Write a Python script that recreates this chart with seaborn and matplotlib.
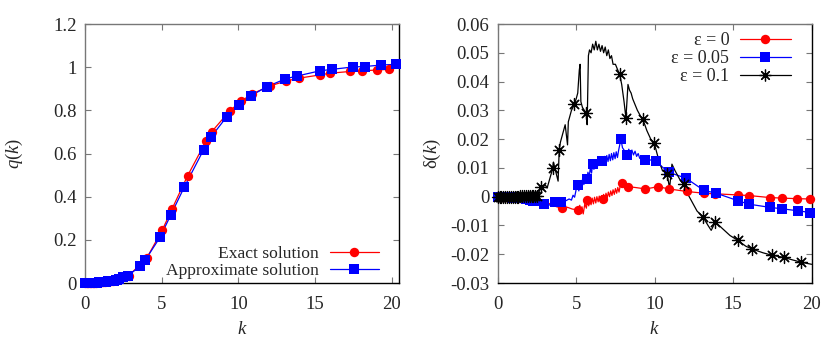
import matplotlib
matplotlib.use("Agg")
import matplotlib.pyplot as plt
import seaborn as sns
from matplotlib.lines import Line2D
from matplotlib.ticker import FuncFormatter

# ---- left panel: q(k) ----
k_dense = [0, 0.1, 0.2, 0.3, 0.4, 0.5, 0.6, 0.7, 0.8, 0.9, 1.0, 1.1,
           1.2, 1.3, 1.4, 1.5, 1.6, 1.7, 1.8, 1.9, 2.0, 2.1, 2.2]
q_exact_dense = [0, 0, 0, 0.001, 0.001, 0.001, 0.002, 0.002, 0.003, 0.003, 0.004, 0.005,
                 0.005, 0.006, 0.007, 0.008, 0.009, 0.010, 0.011, 0.013, 0.014, 0.016, 0.018]
q_approx_dense = [0, 0, 0, 0.001, 0.001, 0.001, 0.001, 0.002, 0.002, 0.003, 0.003, 0.004,
                  0.005, 0.005, 0.006, 0.007, 0.008, 0.009, 0.010, 0.011, 0.013, 0.015, 0.017]

k_exact = [2.85, 4.03, 5.05, 5.68, 6.69, 7.91, 8.25, 9.43, 10.17, 10.89, 12.05,
           13.11, 13.94, 15.31, 15.97, 17.27, 18.08, 19.02, 19.82]
q_exact = [0.034, 0.116, 0.247, 0.344, 0.497, 0.66, 0.70, 0.797, 0.842, 0.876, 0.913,
           0.936, 0.949, 0.964, 0.972, 0.98, 0.983, 0.987, 0.99]
k_approx = [2.5, 2.79, 3.59, 3.92, 4.9, 5.6, 6.47, 7.73, 8.21, 9.25, 10.04, 10.83,
            11.87, 13.07, 13.83, 15.31, 16.12, 17.47, 18.23, 19.32, 20.25]
q_approx = [0.028, 0.034, 0.077, 0.105, 0.213, 0.316, 0.444, 0.617, 0.676, 0.771, 0.825, 0.868,
            0.91, 0.946, 0.959, 0.983, 0.99, 1.001, 1.003, 1.01, 1.013]

# ---- right panel: delta(k) lines ----
k_e0 = [0, 0.5, 1.0, 1.5, 2.0, 2.5, 2.95, 3.35, 3.75, 4.09, 4.45, 4.75, 5.11, 5.23, 5.3,
        5.37, 5.45, 5.55, 5.65, 5.72, 5.8, 5.87, 5.95, 6.02, 6.1, 6.17, 6.25, 6.32, 6.4,
        6.47, 6.55, 6.62, 6.68, 6.75, 6.83, 6.9, 6.98, 7.05, 7.13, 7.2, 7.28, 7.35, 7.43,
        7.5, 7.58, 7.65, 7.73, 7.8, 7.92, 8.05, 8.28, 8.75, 9.41, 9.85, 10.19, 10.89, 12.06,
        13.13, 13.87, 15.3, 16.0, 17.32, 18.13, 19.09, 19.87, 20.0]
d_e0 = [0, -0.0001, -0.0002, -0.0004, -0.0006, -0.0009, -0.0013, -0.0026, -0.0035, -0.004,
        -0.0037, -0.0043, -0.0046, -0.003, -0.0058, -0.0035, -0.006, -0.0025, -0.004, -0.0011,
        -0.0032, -0.0008, -0.0028, -0.0005, -0.0025, -0.0002, -0.0022, 0, -0.0018, 0.0002,
        -0.0015, 0.0004, -0.0007, 0.0008, -0.0008, 0.0012, -0.0004, 0.0016, 0, 0.002,
        0.0004, 0.0024, 0.0008, 0.0028, 0.0012, 0.0032, 0.0016, 0.0036, 0.0047, 0.0038,
        0.0035, 0.0032, 0.0027, 0.0031, 0.0035, 0.0027, 0.0018, 0.0012, 0.001, 0.0006,
        0.0004, -0.0003, -0.0005, -0.0007, -0.0008, -0.0008]

k_e05 = [0, 0.5, 1, 1.5, 2, 2.55, 2.92, 3.25, 3.66, 4.02, 4.35, 4.55, 4.7, 4.8, 4.9, 5.0,
         5.09, 5.17, 5.25, 5.33, 5.41, 5.49, 5.58, 5.68, 5.75, 5.83, 5.9, 5.98, 6.05, 6.13,
         6.2, 6.28, 6.35, 6.43, 6.5, 6.58, 6.65, 6.73, 6.8, 6.88, 6.95, 7.03, 7.1, 7.18,
         7.25, 7.33, 7.4, 7.48, 7.55, 7.63, 7.7, 7.85, 7.95, 8.05, 8.24, 8.35, 8.45, 8.55,
         8.65, 8.75, 8.85, 8.95, 9.05, 9.15, 9.36, 9.65, 10.09, 10.45, 10.89, 12.0, 13.13,
         13.92, 15.3, 16.0, 17.32, 18.09, 19.13, 19.89, 20.0]
d_e05 = [0, -0.0001, -0.0003, -0.0006, -0.001, -0.0016, -0.0026, -0.003, -0.0019, -0.0017,
         -0.0014, -0.0008, -0.0012, 0.0005, -0.0002, 0.0025, 0.0041, 0.002, 0.005, 0.003,
         0.0062, 0.0042, 0.007, 0.0062, 0.0085, 0.0068, 0.01, 0.0082, 0.0115, 0.0095,
         0.0125, 0.0103, 0.013, 0.0108, 0.0134, 0.0112, 0.0125, 0.0115, 0.014, 0.0118,
         0.0143, 0.0122, 0.0147, 0.0125, 0.015, 0.0128, 0.0153, 0.0132, 0.0156, 0.0136,
         0.016, 0.02, 0.017, 0.0162, 0.0146, 0.0165, 0.015, 0.0162, 0.0145, 0.0158,
         0.014, 0.015, 0.0133, 0.014, 0.0126, 0.0128, 0.0125, 0.0105, 0.0085, 0.0064,
         0.0022, 0.0012, -0.0014, -0.0026, -0.0037, -0.0042, -0.0049, -0.0055, -0.0056]

k_e1 = [0, 0.5, 1.0, 1.5, 2.0, 2.5, 2.77, 3.05, 3.15, 3.51, 3.55, 3.85, 3.92, 4.0, 4.1,
        4.2, 4.3, 4.45, 4.5, 4.6, 4.7, 4.89, 5.0, 5.1, 5.2, 5.25, 5.3, 5.4, 5.64, 5.7,
        5.78, 5.85, 5.95, 6.05, 6.15, 6.25, 6.35, 6.45, 6.55, 6.65, 6.75, 6.85, 6.95, 7.05,
        7.15, 7.25, 7.35, 7.5, 7.65, 7.77, 7.9, 8.05, 8.17, 8.3, 8.4, 8.5, 8.6, 8.75, 8.9,
        9.1, 9.25, 9.5, 9.75, 9.98, 10.1, 10.3, 10.5, 10.79, 10.95, 11.1, 11.3, 11.6, 11.87,
        12.1, 12.4, 12.7, 13.06, 13.4, 13.6, 13.87, 14.3, 14.8, 15.3, 15.8, 16.21, 16.9,
        17.49, 18.24, 18.8, 19.34, 20.0]
d_e1 = [0, 0, 0, 0.0001, 0.0001, 0.0002, 0.0032, 0.004, 0.003, 0.0099, 0.012, 0.0054,
        0.0163, 0.019, 0.021, 0.023, 0.025, 0.018, 0.026, 0.028, 0.03, 0.0321, 0.034, 0.036,
        0.044, 0.046, 0.033, 0.031, 0.029, 0.025, 0.049, 0.051, 0.05, 0.053, 0.051, 0.054,
        0.051, 0.053, 0.0505, 0.0525, 0.05, 0.052, 0.049, 0.051, 0.048, 0.049, 0.046, 0.046,
        0.044, 0.0426, 0.039, 0.033, 0.0273, 0.039, 0.037, 0.036, 0.034, 0.032, 0.03, 0.028,
        0.0269, 0.023, 0.02, 0.0186, 0.016, 0.012, 0.009, 0.008, 0.0029, 0.0113, 0.009,
        0.006, 0.0044, 0.001, -0.002, -0.005, -0.0069, -0.01, -0.0117, -0.0088, -0.011,
        -0.0135, -0.0152, -0.0172, -0.0182, -0.0195, -0.0204, -0.0211, -0.022, -0.0228, -0.0235]

# ---- right panel: marker points ----
kd_dense = [0, 0.12, 0.24, 0.36, 0.48, 0.6, 0.72, 0.84, 0.96, 1.08, 1.2, 1.32,
            1.44, 1.56, 1.68, 1.8, 1.92, 2.04, 2.16, 2.28, 2.4]
dm_e0_dense = [0, 0, 0, -0.0001, -0.0001, -0.0001, -0.0001, -0.0002, -0.0002, -0.0002, -0.0002,
               -0.0003, -0.0003, -0.0004, -0.0004, -0.0005, -0.0005, -0.0006, -0.0007, -0.0008, -0.0009]
dm_e05_dense = [0, 0, 0, -0.0001, -0.0001, -0.0001, -0.0002, -0.0002, -0.0003, -0.0003, -0.0003,
                -0.0004, -0.0005, -0.0006, -0.0006, -0.0007, -0.0009, -0.001, -0.0012, -0.0014, -0.0016]
dm_e1_dense = [0, 0, 0, 0, 0, 0, 0, 0, 0, 0, 0, 0,
               0.0001, 0.0001, 0.0001, 0.0001, 0.0001, 0.0001, 0.0001, 0.0002, 0.0002]

km_e0 = [4.09, 5.11, 5.72, 6.68, 7.92, 8.28, 9.41, 10.19, 10.89, 12.06, 13.13, 13.87,
         15.3, 16.0, 17.32, 18.13, 19.09, 19.87]
dm_e0 = [-0.004, -0.0046, -0.0011, -0.0007, 0.0047, 0.0035, 0.0027, 0.0035, 0.0027, 0.0018,
         0.0012, 0.001, 0.0006, 0.0004, -0.0003, -0.0005, -0.0007, -0.0008]
km_e05 = [2.92, 3.66, 4.02, 5.09, 5.68, 6.05, 6.65, 7.85, 8.24, 9.36, 10.09, 10.89, 12.0,
          13.13, 13.92, 15.3, 16.0, 17.32, 18.09, 19.13, 19.89]
dm_e05 = [-0.0026, -0.0019, -0.0017, 0.0041, 0.0062, 0.0115, 0.0125, 0.02, 0.0146, 0.0126,
          0.0125, 0.0085, 0.0064, 0.0022, 0.0012, -0.0014, -0.0026, -0.0037, -0.0042, -0.0049, -0.0055]
km_e1 = [2.5, 2.77, 3.51, 3.92, 4.89, 5.64, 7.77, 8.17, 9.25, 9.98, 10.79, 11.87, 13.06,
         13.87, 15.3, 16.21, 17.49, 18.24, 19.34]
dm_e1 = [0.0002, 0.0032, 0.0099, 0.0163, 0.0321, 0.029, 0.0426, 0.0273, 0.0269, 0.0186,
         0.008, 0.0044, -0.0069, -0.0088, -0.0152, -0.0182, -0.0204, -0.0211, -0.0228]

labels_left = ['Exact solution', 'Approximate solution']
labels_right = ['ε = 0', 'ε = 0.05', 'ε = 0.1']

sns.set_theme(style='ticks')
plt.rcParams['font.family'] = ['Liberation Serif', 'DejaVu Serif']
plt.rcParams['mathtext.fontset'] = 'custom'
plt.rcParams['mathtext.rm'] = 'Liberation Serif'
plt.rcParams['mathtext.it'] = 'Liberation Serif:italic'
plt.rcParams['font.size'] = 13

RED = '#ff0000'
BLUE = '#0000ff'
GREY = '#777777'
ASTER = (8, 2, 0)

fig = plt.figure(figsize=(8.3, 3.42), dpi=100)
ax1 = fig.add_axes([0.1024, 0.1725, 0.3783, 0.7573])
ax2 = fig.add_axes([0.5996, 0.1725, 0.3783, 0.7573])


def line(ax, x, y, color):
    sns.lineplot(x=x, y=y, ax=ax, color=color, linewidth=0.9, sort=False, estimator=None)


def pts(ax, x, y, color, marker, size, lw=0):
    if lw:
        sns.scatterplot(x=x, y=y, ax=ax, color=color, marker=marker, s=size,
                        linewidth=lw, edgecolor=color, clip_on=False, zorder=5)
    else:
        sns.scatterplot(x=x, y=y, ax=ax, color=color, marker=marker, s=size,
                        linewidth=0, clip_on=False, zorder=5)


# left panel
line(ax1, k_dense + k_exact, q_exact_dense + q_exact, RED)
pts(ax1, k_dense + k_exact, q_exact_dense + q_exact, RED, 'o', 45)
line(ax1, k_dense + k_approx, q_approx_dense + q_approx, BLUE)
pts(ax1, k_dense + k_approx, q_approx_dense + q_approx, BLUE, 's', 45)

# right panel
line(ax2, k_e0, d_e0, RED)
pts(ax2, kd_dense + km_e0, dm_e0_dense + dm_e0, RED, 'o', 45)
line(ax2, k_e05, d_e05, BLUE)
pts(ax2, kd_dense + km_e05, dm_e05_dense + dm_e05, BLUE, 's', 45)
line(ax2, k_e1, d_e1, 'black')
pts(ax2, kd_dense + km_e1, dm_e1_dense + dm_e1, 'black', ASTER, 75, lw=0.9)

fmt = FuncFormatter(lambda v, p: '%g' % round(v, 6))
for ax in (ax1, ax2):
    ax.tick_params(direction='in', length=4.5, width=0.8, color=GREY,
                   top=True, right=True, labelsize=13.5, pad=6)
    ax.tick_params(axis='x', pad=9)
    ax.spines['left'].set_color(GREY)
    ax.spines['top'].set_color(GREY)
    ax.spines['bottom'].set_color('black')
    ax.spines['right'].set_color('black')
    for s in ax.spines.values():
        s.set_linewidth(1.0)
    ax.xaxis.set_major_formatter(fmt)
    ax.yaxis.set_major_formatter(fmt)
    ax.set_xticks([0, 5, 10, 15, 20])
    ax.set_xlabel(r'$k$', fontsize=13.5, labelpad=6)

ax1.set_xlim(0, 20.47)
ax1.set_ylim(0, 1.2)
ax1.set_yticks([0, 0.2, 0.4, 0.6, 0.8, 1.0, 1.2])
ax1.set_ylabel(r'$q(k)$', fontsize=13.5)
ax1.yaxis.set_label_coords(-0.19, 0.5)

ax2.set_xlim(0, 20)
ax2.set_ylim(-0.03, 0.06)
ax2.set_yticks([-0.03, -0.02, -0.01, 0, 0.01, 0.02, 0.03, 0.04, 0.05, 0.06])
ax2.set_ylabel(r'$\mathrm{δ}(k)$', fontsize=13.5)
ax2.yaxis.set_label_coords(-0.175, 0.5)

h_left = [Line2D([], [], color=RED, lw=0.9, marker='o', ms=6.8, mew=0),
          Line2D([], [], color=BLUE, lw=0.9, marker='s', ms=6.8, mew=0)]
ax1.legend(h_left, labels_left, loc='lower right', bbox_to_anchor=(0.935, 0.016),
           frameon=False, markerfirst=False, handlelength=2.8, handletextpad=0.6,
           labelspacing=0.05, borderaxespad=0, borderpad=0, fontsize=12.6)

h_right = [Line2D([], [], color=RED, lw=0.9, marker='o', ms=6.8, mew=0),
           Line2D([], [], color=BLUE, lw=0.9, marker='s', ms=6.8, mew=0),
           Line2D([], [], color='black', lw=0.9, marker=ASTER, ms=8.5, mew=0.9)]
ax2.legend(h_right, labels_right, loc='upper right', bbox_to_anchor=(0.933, 0.968),
           frameon=False, markerfirst=False, handlelength=2.8, handletextpad=0.6,
           labelspacing=0.05, borderaxespad=0, borderpad=0, fontsize=13)

fig.savefig('out.png', dpi=100)
